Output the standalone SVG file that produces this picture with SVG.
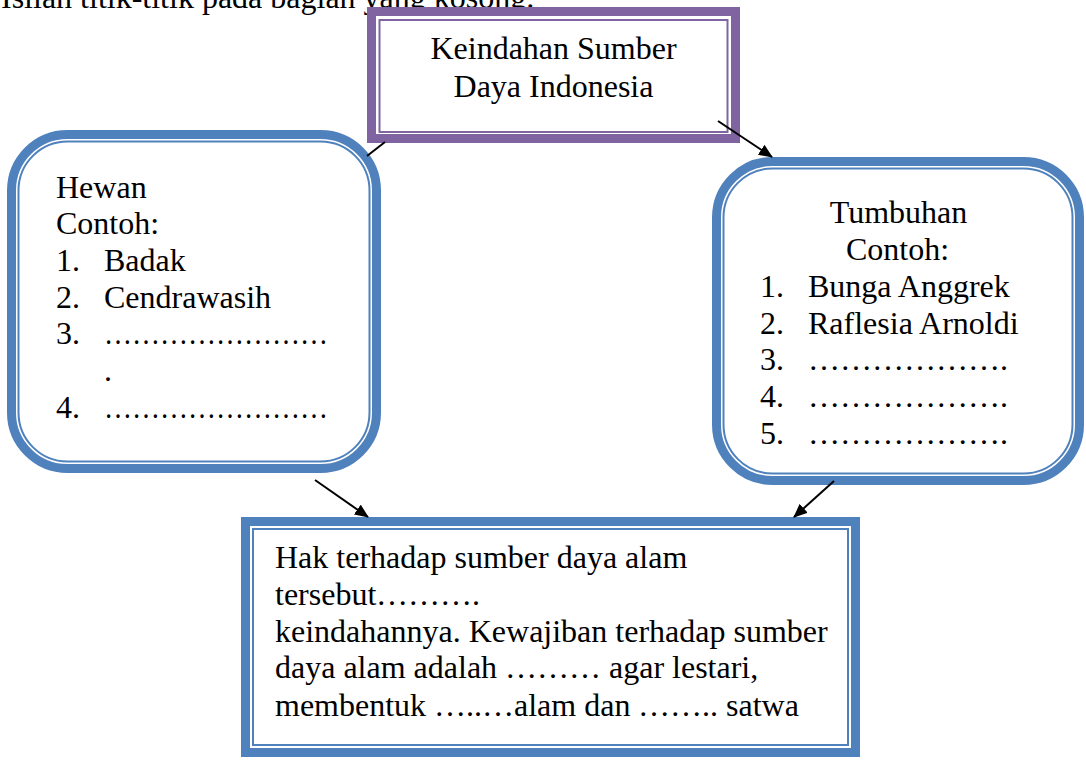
<svg xmlns="http://www.w3.org/2000/svg" width="1086" height="762" viewBox="0 0 1086 762">
  <style>
    .t { font-family: "Liberation Serif", "Times New Roman", serif; font-size: 32px; fill: #000; }
    .mid { text-anchor: middle; }
    .thickP { fill: #fff; stroke: #8064A2; stroke-width: 9; }
    .thinP { fill: none; stroke: #8064A2; stroke-width: 2; }
    .thickB { fill: #fff; stroke: #4F81BD; stroke-width: 9; }
    .thinB { fill: none; stroke: #4F81BD; stroke-width: 2; }
    .conn { stroke: #000; stroke-width: 2; fill: none; }
  </style>
  <defs>
    <marker id="arrow" markerUnits="userSpaceOnUse" markerWidth="14" markerHeight="12" refX="13" refY="6" orient="auto">
      <path d="M0,0 L14,6 L0,12 Z" fill="#000"/>
    </marker>
  </defs>

  <rect width="1086" height="762" fill="#fff"/>

  <!-- instruction line above the chart -->
  <text class="t" x="1" y="8">Isilah titik-titik pada bagian yang kosong.</text>

  <!-- title -->
  <g id="title">
    <rect class="thickP" x="371.5" y="11.5" width="364" height="127"/>
    <rect class="thinP" x="379.5" y="20" width="348" height="112"/>
    <text class="t mid" x="553.5" y="59">Keindahan Sumber</text>
    <text class="t mid" x="553.5" y="97">Daya Indonesia</text>
  </g>

  <!-- animals -->
  <g id="hewan">
    <rect class="thickB" x="11.5" y="134.5" width="365" height="334" rx="56" ry="56"/>
    <rect class="thinB" x="18.5" y="141.5" width="351" height="320" rx="49" ry="49"/>
    <text class="t" x="56" y="198">Hewan</text>
    <text class="t" x="56" y="234">Contoh:</text>
    <text class="t" x="56" y="271">1.</text><text class="t" x="104" y="271">Badak</text>
    <text class="t" x="56" y="308">2.</text><text class="t" x="104" y="308">Cendrawasih</text>
    <text class="t" x="56" y="344">3.</text><text class="t" x="104" y="344" textLength="224" lengthAdjust="spacingAndGlyphs">……………………</text>
    <text class="t" x="104" y="381">.</text>
    <text class="t" x="56" y="418">4.</text><text class="t" x="104" y="418" textLength="224" lengthAdjust="spacingAndGlyphs">……………………</text>
  </g>

  <!-- plants -->
  <g id="tumbuhan">
    <rect class="thickB" x="716.5" y="161.5" width="363" height="319" rx="56" ry="56"/>
    <rect class="thinB" x="723.5" y="168.5" width="349" height="305" rx="49" ry="49"/>
    <text class="t mid" x="898.5" y="223">Tumbuhan</text>
    <text class="t mid" x="897.5" y="260">Contoh:</text>
    <text class="t" x="760" y="297">1.</text><text class="t" x="808" y="297">Bunga Anggrek</text>
    <text class="t" x="760" y="334">2.</text><text class="t" x="808" y="334">Raflesia Arnoldi</text>
    <text class="t" x="760" y="370">3.</text><text class="t" x="808" y="370" textLength="200" lengthAdjust="spacingAndGlyphs">……………….</text>
    <text class="t" x="760" y="407">4.</text><text class="t" x="808" y="407" textLength="200" lengthAdjust="spacingAndGlyphs">……………….</text>
    <text class="t" x="760" y="444">5.</text><text class="t" x="808" y="444" textLength="200" lengthAdjust="spacingAndGlyphs">……………….</text>
  </g>

  <!-- rights and duties -->
  <g id="hak">
    <rect class="thickB" x="245.5" y="521.5" width="610" height="231"/>
    <rect class="thinB" x="253" y="529" width="595" height="216"/>
    <text class="t" x="275" y="568">Hak terhadap sumber daya alam</text>
    <text class="t" x="275" y="605">tersebut</text>
    <text class="t" x="376" y="605" textLength="104" lengthAdjust="spacingAndGlyphs">……….</text>
    <text class="t" x="275" y="642">keindahannya. Kewajiban terhadap sumber</text>
    <text class="t" x="275" y="678">daya alam adalah</text>
    <text class="t" x="505" y="678" textLength="96" lengthAdjust="spacingAndGlyphs">………</text>
    <text class="t" x="609" y="678">agar lestari,</text>
    <text class="t" x="275" y="716">membentuk</text>
    <text class="t" x="434" y="716" textLength="80" lengthAdjust="spacingAndGlyphs">…..…</text>
    <text class="t" x="514" y="716">alam dan</text>
    <text class="t" x="638" y="716" textLength="80" lengthAdjust="spacingAndGlyphs">……..</text>
    <text class="t" x="726" y="716">satwa</text>
  </g>

  <!-- connectors -->
  <g id="connectors">
    <line class="conn" x1="385" y1="142" x2="367" y2="156"/>
    <line class="conn" x1="718" y1="121" x2="772" y2="157" marker-end="url(#arrow)"/>
    <line class="conn" x1="315" y1="480" x2="368" y2="517" marker-end="url(#arrow)"/>
    <line class="conn" x1="834" y1="481" x2="794" y2="517" marker-end="url(#arrow)"/>
  </g>
</svg>
